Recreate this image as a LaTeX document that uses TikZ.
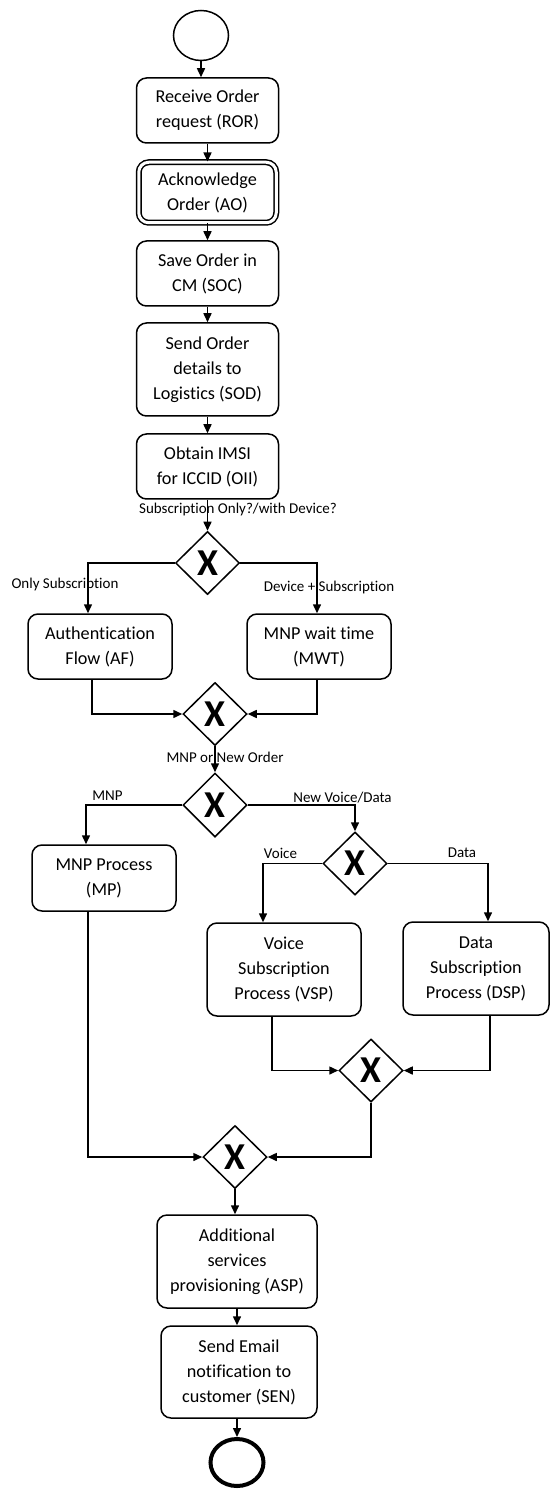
\documentclass[tikz,border=0pt]{standalone}
\usepackage{fontspec}
\setmainfont{Carlito}[Ligatures={NoCommon,NoRare}]
\usetikzlibrary{shapes.geometric,arrows.meta}
\tikzset{
  task/.style={draw, rounded corners=5pt, line width=0.75pt, align=center, inner sep=2pt,
    minimum width=71pt, minimum height=32.5pt, font=\fontsize{9.1}{12.5}\selectfont},
  subtask/.style={task, double, double distance=1.5pt, minimum width=68.75pt, minimum height=30.25pt},
  gate/.style={diamond, draw, line width=0.75pt, inner sep=0pt, minimum width=32pt, minimum height=31.5pt,
    font=\fontsize{19}{19}\selectfont\bfseries},
  event/.style={ellipse, draw, line width=0.75pt, minimum width=27.5pt, minimum height=25pt},
  endevent/.style={event, line width=2pt, minimum width=26.5pt, minimum height=23.5pt},
  flow/.style={-{Triangle[length=4.5pt,width=4pt]}, line width=0.75pt},
  lbl/.style={font=\fontsize{7.5}{9}\selectfont, inner sep=0pt}
}
\begin{document}
\begin{tikzpicture}[x=0.5pt, y=-0.5pt]
        \useasboundingbox (0,0) rectangle (550,1491);
        \node[event] (start) at (201,35.5) {};
        \node[task] (ror) at (207.5,110.5) {Receive Order\\request (ROR)};
        \node[subtask] (ao) at (207.5,192.5) {Acknowledge\\Order (AO)};
        \node[task] (soc) at (207.5,273.5) {Save Order in\\CM (SOC)};
        \node[task, minimum height=46.5pt] (sod) at (207.5,369.5) {Send Order\\details to\\Logistics (SOD)};
        \node[task] (oii) at (207.5,466.5) {Obtain IMSI\\for ICCID (OII)};
        \node[gate] (g1) at (207.5,563) {X};
        \node[task, minimum width=72pt] (af) at (100,646.5) {Authentication\\Flow (AF)};
        \node[task, minimum width=72pt] (mwt) at (319,646.5) {MNP wait time\\(MWT)};
        \node[gate] (g2) at (215,714) {X};
        \node[gate, minimum height=32pt] (g3) at (215,805) {X};
        \node[task, minimum width=72pt, minimum height=33pt] (mp) at (104,878) {MNP Process\\(MP)};
        \node[gate] (g4) at (355,863.5) {X};
        \node[task, minimum width=77pt, minimum height=46.5pt] (vsp) at (284,969.5) {Voice\\Subscription\\Process (VSP)};
        \node[task, minimum width=73pt, minimum height=46.5pt] (dsp) at (476,968.5) {Data\\Subscription\\Process (DSP)};
        \node[gate] (g5) at (371,1070.5) {X};
        \node[gate] (g6) at (235,1157) {X};
        \node[task, minimum width=80pt, minimum height=46.5pt] (asp) at (237,1261.5) {Additional\\services\\provisioning (ASP)};
        \node[task, minimum width=78pt, minimum height=46pt] (sen) at (239,1372) {Send Email\\notification to\\customer (SEN)};
        \node[endevent] (end) at (237,1462.5) {};
        \node[lbl] (qsub) at (238,510) {Subscription Only?/with Device?};
        \node[lbl] (lonly) at (65,584) {Only Subscription};
        \node[lbl] (ldev) at (329,588) {Device + Subscription};
        \node[lbl] (qmnp) at (225,757) {MNP or New Order};
        \node[lbl] (lmnp) at (107.5,796) {MNP};
        \node[lbl] (lnew) at (342.5,798) {New Voice/Data};
        \node[lbl] (lvoice) at (280.5,853) {Voice};
        \node[lbl] (ldata) at (462,853) {Data};
        \draw[flow] (start.south) -- (start.south |- ror.north);
        \draw[flow] (ror) -- (ao);
        \draw[flow] (ao) -- (soc);
        \draw[flow] (soc) -- (sod);
        \draw[flow] (sod) -- (oii);
        \draw[flow] (oii) -- (g1);
        \draw[flow] (g1.west) -| ([xshift=-6pt]af.north);
        \draw[flow] (g1.east) -| ([xshift=-1pt]mwt.north);
        \draw[flow] ([xshift=-4pt]af.south) |- (g2.west);
        \draw[flow] ([xshift=-1pt]mwt.south) |- (g2.east);
        \draw[flow] (g2) -- (g3);
        \draw[flow] (g3.west) -| ([xshift=-9pt]mp.north);
        \draw[flow] (g3.east) -| (g4.north);
        \draw[flow] (g4.west) -| ([xshift=-10.5pt]vsp.north);
        \draw[flow] (g4.east) -| ([xshift=6pt]dsp.north);
        \draw[flow] ([xshift=-6pt]vsp.south) |- (g5.west);
        \draw[flow] ([xshift=7pt]dsp.south) |- (g5.east);
        \draw[flow] (g5.south) |- (g6.east);
        \draw[flow] ([xshift=-8pt]mp.south) |- (g6.west);
        \draw[flow] (g6.south) -- (g6.south |- asp.north);
        \draw[flow] (asp.south) -- (asp.south |- sen.north);
        \draw[flow] (end.north |- sen.south) -- (end.north);
\end{tikzpicture}
\end{document}
